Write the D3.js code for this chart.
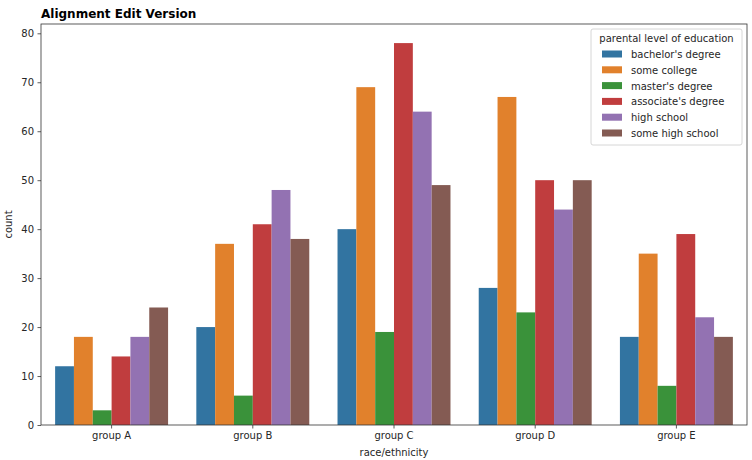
<!DOCTYPE html>
<html><head><meta charset="utf-8">
<script src="https://cdn.jsdelivr.net/npm/d3@7"></script>
<style>body{margin:0;background:#fff}svg{font-family:"DejaVu Sans",sans-serif}</style>
</head><body><svg id="c" width="752" height="460"></svg>
<script>
const groups = ["group A","group B","group C","group D","group E"];
const levels = ["bachelor's degree","some college","master's degree","associate's degree","high school","some high school"];
const bachelors = [12,20,40,28,18];
const someCollege = [18,37,69,67,35];
const masters = [3,6,19,23,8];
const associates = [14,41,78,50,39];
const highSchool = [18,48,64,44,22];
const someHighSchool = [24,38,49,50,18];
const colors = ["#3274a1","#e1812c","#3a923a","#c03d3e","#9372b2","#845b53"];
const yTicks = [0,10,20,30,40,50,60,70,80];
const series = [bachelors,someCollege,masters,associates,highSchool,someHighSchool];

const svg = d3.select("#c");
const L=41, R=747, T=24, B=425;
const x = d3.scaleBand().domain(groups).range([L,R]).padding(0);
const inner = d3.scaleBand().domain(levels).range([0.1*x.bandwidth(), 0.9*x.bandwidth()]).padding(0);
const y = d3.scaleLinear().domain([0, 78*1.05]).range([B,T]);

const g = svg.append("g");
series.forEach((vals,i)=>{
  g.selectAll(null).data(groups).enter().append("rect")
    .attr("x", d=>x(d)+inner(levels[i]))
    .attr("width", inner.bandwidth())
    .attr("y", (d,j)=>y(vals[j]))
    .attr("height", (d,j)=>y(0)-y(vals[j]))
    .attr("fill", colors[i]);
});

const ya = svg.append("g").attr("transform",`translate(${L},0)`)
  .call(d3.axisLeft(y).tickValues(yTicks).tickSize(3.5).tickPadding(3.5));
const xa = svg.append("g").attr("transform",`translate(0,${B})`)
  .call(d3.axisBottom(x).tickSize(3.5).tickPadding(3.5));
[ya,xa].forEach(a=>{
  a.select(".domain").remove();
  a.selectAll("text").attr("font-size",10).attr("fill","#262626").attr("font-family","DejaVu Sans");
  a.selectAll("line").attr("stroke","#333").attr("stroke-width",0.8);
});
svg.append("rect").attr("x",L).attr("y",T).attr("width",R-L).attr("height",B-T)
  .attr("fill","none").attr("stroke","#333").attr("stroke-width",0.8);

svg.append("text").attr("x",L).attr("y",18).attr("font-size",12).attr("font-weight","bold").text("Alignment Edit Version");
svg.append("text").attr("x",(L+R)/2).attr("y",456).attr("text-anchor","middle").attr("font-size",10).attr("fill","#262626").text("race/ethnicity");
svg.append("text").attr("transform",`translate(12,${(T+B)/2}) rotate(-90)`).attr("text-anchor","middle").attr("font-size",10).attr("fill","#262626").text("count");

const lg = svg.append("g").attr("transform","translate(591,29)");
lg.append("rect").attr("width",151).attr("height",116).attr("rx",2).attr("fill","#fff").attr("fill-opacity",0.8).attr("stroke","#ccc").attr("stroke-width",0.8);
lg.append("text").attr("x",75.5).attr("y",13).attr("text-anchor","middle").attr("font-size",10).attr("fill","#262626").text("parental level of education");
levels.forEach((l,i)=>{
  lg.append("rect").attr("x",11).attr("y",18+i*15.8+3.5).attr("width",20).attr("height",7).attr("fill",colors[i]);
  lg.append("text").attr("x",40).attr("y",18+i*15.8+11).attr("font-size",10).attr("fill","#262626").text(l);
});
</script></body></html>
